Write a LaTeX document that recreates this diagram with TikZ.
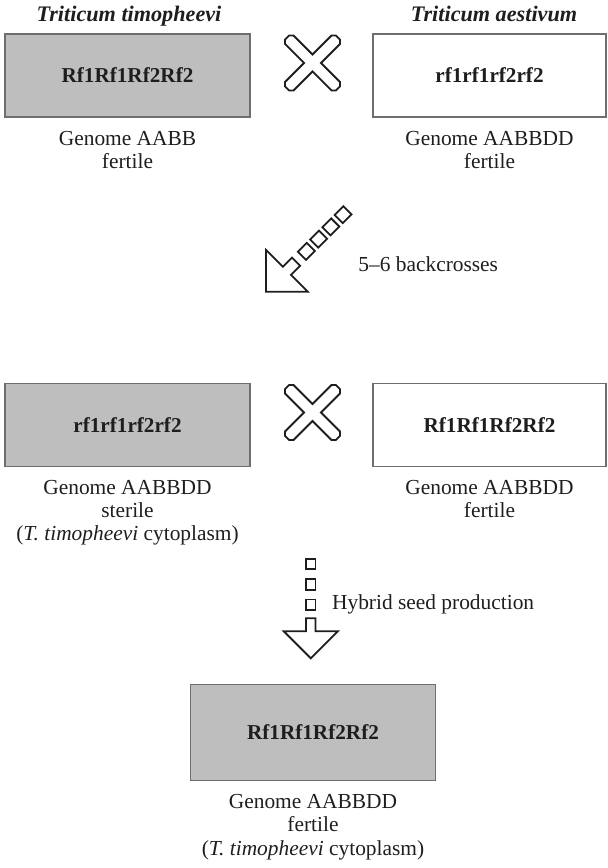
\documentclass[tikz,border=0pt]{standalone}
\usepackage{fontspec}
\setmainfont{Liberation Serif}
\usepackage{tikz}
\usetikzlibrary{positioning}
\definecolor{boxgray}{HTML}{BEBEBE}
\definecolor{edgegray}{HTML}{6E6E6E}
\definecolor{inkgray}{HTML}{1E1E1E}
\tikzset{
	cytobox/.style={draw=edgegray, line width=0.7pt, fill=boxgray, minimum width=122.5pt, minimum height=41.5pt, inner sep=0pt, text=inkgray, font=\fontsize{10.6}{12}\selectfont\bfseries},
	plainbox/.style={cytobox, fill=white},
	caption/.style={align=center, inner sep=0pt, text=inkgray, font=\fontsize{10.7}{11.6}\selectfont},
	species/.style={inner sep=0pt, anchor=base, text=inkgray, font=\fontsize{11.1}{12}\selectfont\bfseries\itshape},
	outline/.style={draw=inkgray, line width=0.9pt, line join=miter},
}
% cross sign, centre given
\def\crossmark(#1){\draw[outline, shift={(#1)}, rotate=45] (36,-3) -- (36,3) -- (33,6) -- (6,6) -- (6,33) -- (3,36) -- (-3,36) -- (-6,33) -- (-6,6) -- (-33,6) -- (-36,3) -- (-36,-3) -- (-33,-6) -- (-6,-6) -- (-6,-33) -- (-3,-36) -- (3,-36) -- (6,-33) -- (6,-6) -- (33,-6) -- cycle;}
% open arrow with a dotted shaft: tip, rotation : squares : head : side : pitch
\def\seedarrow(#1)(#2:#3:#4:#5:#6){%
	\begin{scope}[shift={(#1)}, rotate=#2]
		\draw[outline] (0,0) -- (-#4,#4) -- ({-#5/2},#4) -- ({-#5/2},#4+13) -- ({#5/2},#4+13) -- ({#5/2},#4) -- (#4,#4) -- cycle;
		\foreach \k in {1,...,#3}
			\draw[outline] ({-#5/2},{#4+21.3+#6*(\k-1)}) rectangle ++(#5,{#5+1});
	\end{scope}}

\begin{document}
\begin{tikzpicture}[x=0.5pt, y=0.5pt]
		\useasboundingbox (0,0) rectangle (607,868);
		
		%%%%% parents %%%%%
		\node[species] (timhead) at (129,846) {Triticum timopheevi};
		\node[species] (aeshead) at (494,846) {Triticum aestivum};
		
		\node[cytobox] (timbox) at (127.5,792.5) {Rf1Rf1Rf2Rf2};
		\node[plainbox, minimum width=116.5pt] (aesbox) at (489.5,792.5) {rf1rf1rf2rf2};
		\crossmark(312.5,805)
		
		\node[caption, below=6.4pt of timbox] (timcap) {Genome AABB\\fertile};
		\node[caption, below=6.4pt of aesbox] (aescap) {Genome AABBDD\\fertile};
		
		%%%%% backcrossing %%%%%
		\seedarrow(266,576.3)(-45:4:29.5:11.5:17.3)
		\node[caption, anchor=base west] (bclabel) at (358,596) {5--6 backcrosses};
		
		%%%%% cms line x restorer %%%%%
		\node[cytobox] (cmsbox) at (127.5,443.25) {rf1rf1rf2rf2};
		\node[plainbox, minimum width=116.5pt] (rfbox) at (489.5,443.25) {Rf1Rf1Rf2Rf2};
		\crossmark(312.5,455.5)
		
		\node[caption, below=6.4pt of cmsbox] (cmscap) {Genome AABBDD\\sterile\\(\textit{T. timopheevi} cytoplasm)};
		\node[caption, below=6.4pt of rfbox] (rfcap) {Genome AABBDD\\fertile};
		
		%%%%% hybrid %%%%%
		\seedarrow(310.8,209.7)(0:3:27:9.5:20.3)
		\node[caption, anchor=base west] (hylabel) at (331.7,258.7) {Hybrid seed production};
		
		\node[cytobox, minimum height=48.2pt] (hybox) at (313,135.5) {Rf1Rf1Rf2Rf2};
		\node[caption, below=6.4pt of hybox] (hycap) {Genome AABBDD\\fertile\\(\textit{T. timopheevi} cytoplasm)};
		%%%%% END %%%%%
\end{tikzpicture}
\end{document}
